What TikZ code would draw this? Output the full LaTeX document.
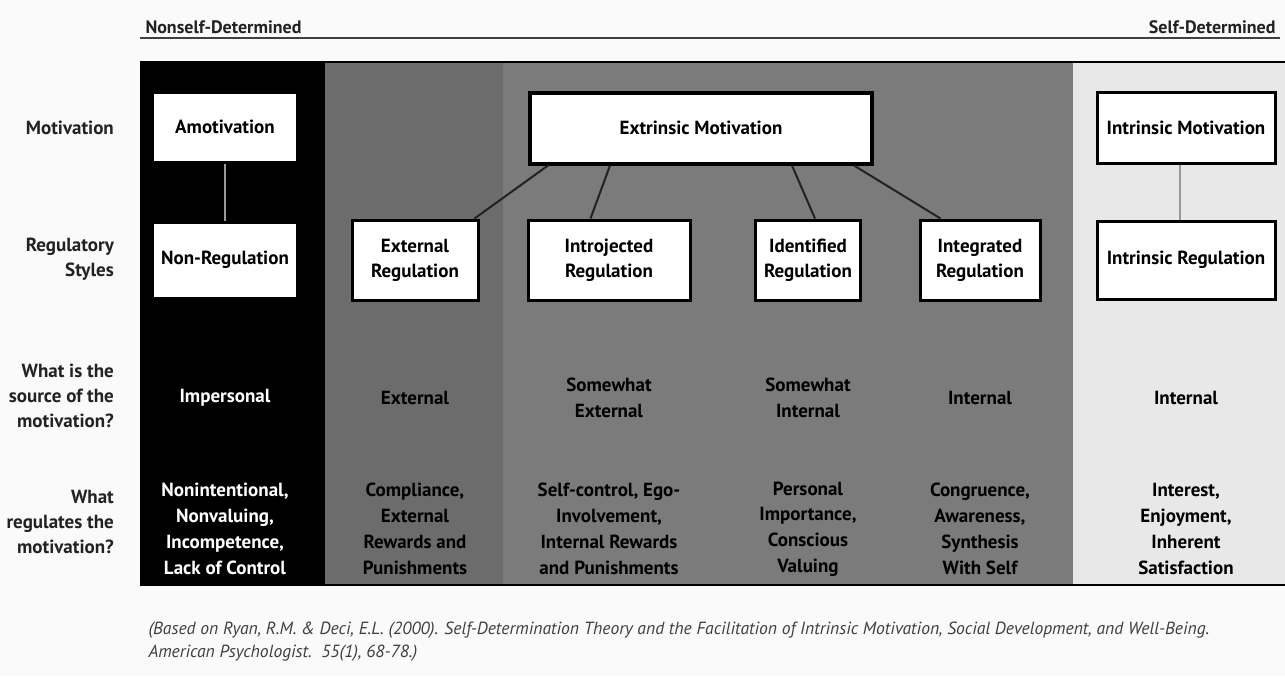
\documentclass[tikz,border=0pt]{standalone}
\usepackage{fontspec}
\setmainfont{PT Sans}
\usetikzlibrary{positioning}
\definecolor{pagebg}{HTML}{FAFAFA}
\definecolor{colext}{HTML}{6C6C6C}
\definecolor{colmid}{HTML}{7B7B7B}
\definecolor{colint}{HTML}{E8E8E8}
\definecolor{inkgrey}{HTML}{222222}
\tikzset{
    every picture/.style={line width=0.5pt},
    regbox/.style={draw=black,fill=white,line width=1.5pt,align=center,inner sep=1pt,
        font=\bfseries\fontsize{9.5}{12.5}\selectfont},
    rowlabel/.style={anchor=east,align=right,text=inkgrey,font=\bfseries\fontsize{9.5}{12.5}\selectfont},
    cell/.style={align=center,font=\bfseries\fontsize{9.5}{12.9}\selectfont},
    link/.style={draw=inkgrey,line width=1pt},
    softlink/.style={draw=gray!80,line width=0.8pt}
}

\begin{document}
\begin{tikzpicture}[x=0.5pt,y=-0.5pt]
        \useasboundingbox[fill=pagebg] (0,0) rectangle (1285,676);

        % Scale from nonself- to self-determined
        \coordinate (scalew) at (140,38);
        \coordinate (scalee) at (1280,38);
        \draw[draw=black!75,line width=1pt] (scalew) -- (scalee);
        \node[anchor=south west,inner sep=1pt,text=inkgrey,font=\bfseries\fontsize{9}{11}\selectfont] (nonself) at (143,36) {Nonself-Determined};
        \node[anchor=south east,inner sep=1pt,text=inkgrey,font=\bfseries\fontsize{9}{11}\selectfont] (self) at (1278,36) {Self-Determined};

        % Column backgrounds
        \fill[black] (140,62) rectangle (325,585);
        \fill[colext] (325,62) rectangle (503,585);
        \fill[colmid] (503,62) rectangle (1073,585);
        \fill[colint] (1073,62) rectangle (1285,585);
        \draw[black,line width=1pt] (140,62) -- (1285,62);
        \draw[black,line width=1pt] (140,585) -- (1285,585);

        % Row labels
        \node[rowlabel] (rmot) at (121,128) {Motivation};
        \node[rowlabel] (rreg) at (121,259) {Regulatory\\Styles};
        \node[rowlabel] (rsrc) at (121,396) {What is the\\source of the\\motivation?};
        \node[rowlabel] (rwhat) at (121,522) {What\\regulates the\\motivation?};

        % Motivation boxes
        \node[regbox,minimum width=72.5pt,minimum height=35pt] (amot) at (225,127) {Amotivation};
        \node[regbox,line width=2pt,minimum width=171pt,minimum height=35.5pt] (extr) at (701,128) {Extrinsic Motivation};
        \node[regbox,minimum width=89pt,minimum height=35.5pt] (intr) at (1186,128) {Intrinsic Motivation};

        % Regulatory styles
        \node[regbox,minimum width=72.5pt,minimum height=38pt] (nonreg) at (225,260) {Non-Regulation};
        \node[regbox,minimum width=63pt,minimum height=40pt] (extreg) at (415,260) {External\\Regulation};
        \node[regbox,minimum width=81pt,minimum height=40pt] (introreg) at (609,260) {Introjected\\Regulation};
        \node[regbox,minimum width=52.5pt,minimum height=40pt] (identreg) at (808,260) {Identified\\Regulation};
        \node[regbox,minimum width=60pt,minimum height=40pt] (integreg) at (980,260) {Integrated\\Regulation};
        \node[regbox,minimum width=89pt,minimum height=39pt] (intrreg) at (1186,260) {Intrinsic Regulation};

        % Connectors
        \draw[softlink] (amot.south) -- (nonreg.north);
        \draw[softlink] ([xshift=-3pt]intr.south) -- ([xshift=-3pt]intrreg.north);
        \draw[link] ([xshift=10pt]extr.south west) -- ([xshift=-2.5pt]extreg.north east);
        \draw[link] ([xshift=41pt]extr.south west) -- ([xshift=32pt]introreg.north west);
        \draw[link] ([xshift=-41pt]extr.south east) -- ([xshift=3.5pt]identreg.north);
        \draw[link] ([xshift=-10pt]extr.south east) -- ([xshift=11pt]integreg.north west);

        % Source of the motivation
        \node[cell,text=white] (srcimp) at (225,398) {Impersonal};
        \node[cell] (srcext) at (415,398) {External};
        \node[cell] (srcsomeext) at (609,398) {Somewhat\\External};
        \node[cell] (srcsomeint) at (808,398) {Somewhat\\Internal};
        \node[cell] (srcint) at (980,398) {Internal};
        \node[cell] (srcintr) at (1186,398) {Internal};

        % What regulates the motivation
        \node[cell,text=white] (regimp) at (225,529) {Nonintentional,\\Nonvaluing,\\Incompetence,\\Lack of Control};
        \node[cell] (regext) at (415,529) {Compliance,\\External\\Rewards and\\Punishments};
        \node[cell] (regintro) at (609,529) {Self-control, Ego-\\Involvement,\\Internal Rewards\\and Punishments};
        \node[cell] (regident) at (808,529) {Personal\\Importance,\\Conscious\\Valuing};
        \node[cell] (reginteg) at (980,529) {Congruence,\\Awareness,\\Synthesis\\With Self};
        \node[cell] (regintr) at (1186,529) {Interest,\\Enjoyment,\\Inherent\\Satisfaction};

        % Source note
        \node[anchor=north west,align=left,inner sep=0pt,text=black!75,font=\itshape\fontsize{8.8}{11.5}\selectfont] (note) at (148,621)
            {(Based on Ryan, R.M. \& Deci, E.L. (2000). Self-Determination Theory and the Facilitation of Intrinsic Motivation, Social Development, and Well-Being.\\American Psychologist.\ \ 55(1), 68-78.)};
    \end{tikzpicture}
\end{document}
